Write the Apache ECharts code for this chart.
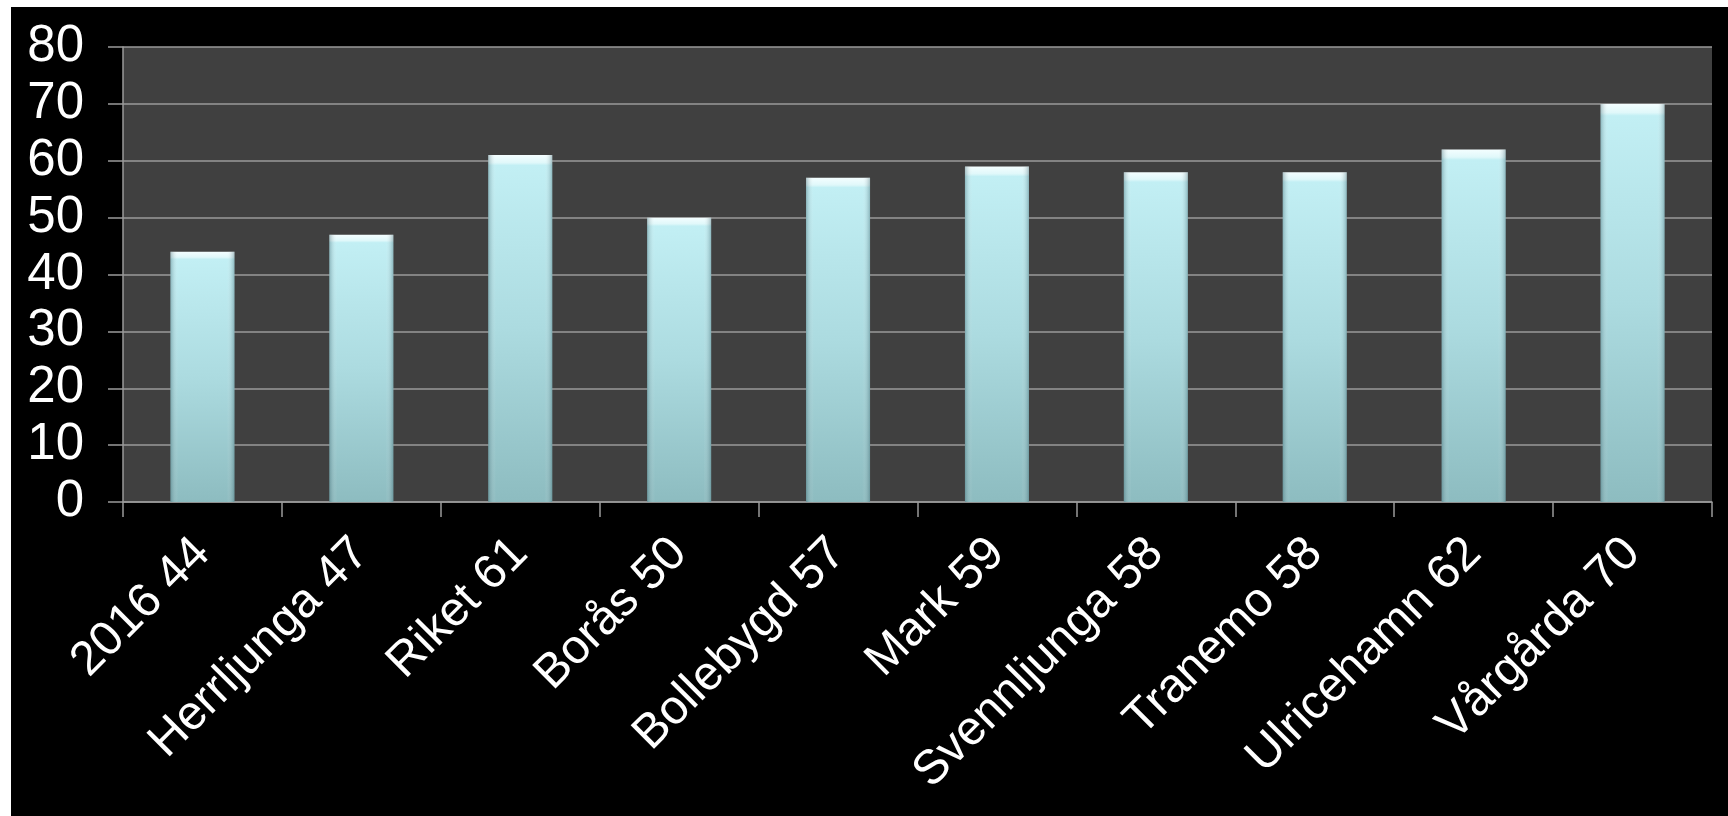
<!DOCTYPE html>
<html>
<head>
<meta charset="utf-8">
<script src="https://cdn.jsdelivr.net/npm/echarts@6/dist/echarts.min.js"></script>
<style>
  html, body { margin: 0; padding: 0; background: #ffffff; width: 1728px; height: 816px; overflow: hidden; }
  #chart { position: absolute; left: 11px; top: 7px; width: 1717px; height: 809px; background: #000000; }
</style>
</head>
<body>
<div id="chart"></div>
<script>
const categories = ['2016 44', 'Herrljunga 47', 'Riket 61', 'Borås 50', 'Bollebygd 57', 'Mark 59', 'Svennljunga 58', 'Tranemo 58', 'Ulricehamn 62', 'Vårgårda 70'];
const values = [44, 47, 61, 50, 57, 59, 58, 58, 62, 70];
const yTicks = [0, 10, 20, 30, 40, 50, 60, 70, 80];

const chart = echarts.init(document.getElementById('chart'));
const font = 'Liberation Sans, Arial, sans-serif';
chart.setOption({
  backgroundColor: '#000000',
  animation: false,
  grid: { left: 112, top: 40, right: 16, bottom: 314, show: true, backgroundColor: '#404040', borderWidth: 0 },
  xAxis: {
    type: 'category',
    data: categories,
    axisLine: { show: true, lineStyle: { color: '#9a9a9a', width: 1.5 } },
    axisTick: { show: true, length: 15, lineStyle: { color: '#9a9a9a', width: 1.5 } },
    axisLabel: { color: '#ffffff', fontFamily: font, fontSize: 48, rotate: 45, margin: 44, interval: 0 }
  },
  yAxis: {
    type: 'value',
    min: yTicks[0],
    max: yTicks[yTicks.length - 1],
    interval: 10,
    axisLine: { show: true, lineStyle: { color: '#9a9a9a', width: 1.5 } },
    axisTick: { show: true, length: 15, lineStyle: { color: '#9a9a9a', width: 1.5 } },
    axisLabel: { color: '#ffffff', fontFamily: font, fontSize: 51, margin: 39 },
    splitLine: { show: true, lineStyle: { color: '#9a9a9a', width: 1.5 } }
  },
  series: [
    {
      type: 'bar',
      data: values,
      barWidth: 64,
      itemStyle: {
        color: new echarts.graphic.LinearGradient(0, 0, 0, 1, [
          { offset: 0, color: '#f4feff' },
          { offset: 0.022, color: '#e0f8fa' },
          { offset: 0.03, color: '#c2eff4' },
          { offset: 0.5, color: '#acdbe0' },
          { offset: 1, color: '#8dbcc0' }
        ])
      }
    },
    {
      type: 'bar',
      data: values,
      barWidth: 64,
      barGap: '-100%',
      silent: true,
      itemStyle: {
        color: new echarts.graphic.LinearGradient(0, 0, 1, 0, [
          { offset: 0, color: 'rgba(40,80,90,0.35)' },
          { offset: 0.12, color: 'rgba(255,255,255,0.0)' },
          { offset: 0.88, color: 'rgba(255,255,255,0.0)' },
          { offset: 1, color: 'rgba(40,80,90,0.35)' }
        ])
      }
    }
  ]
});
</script>
</body>
</html>
